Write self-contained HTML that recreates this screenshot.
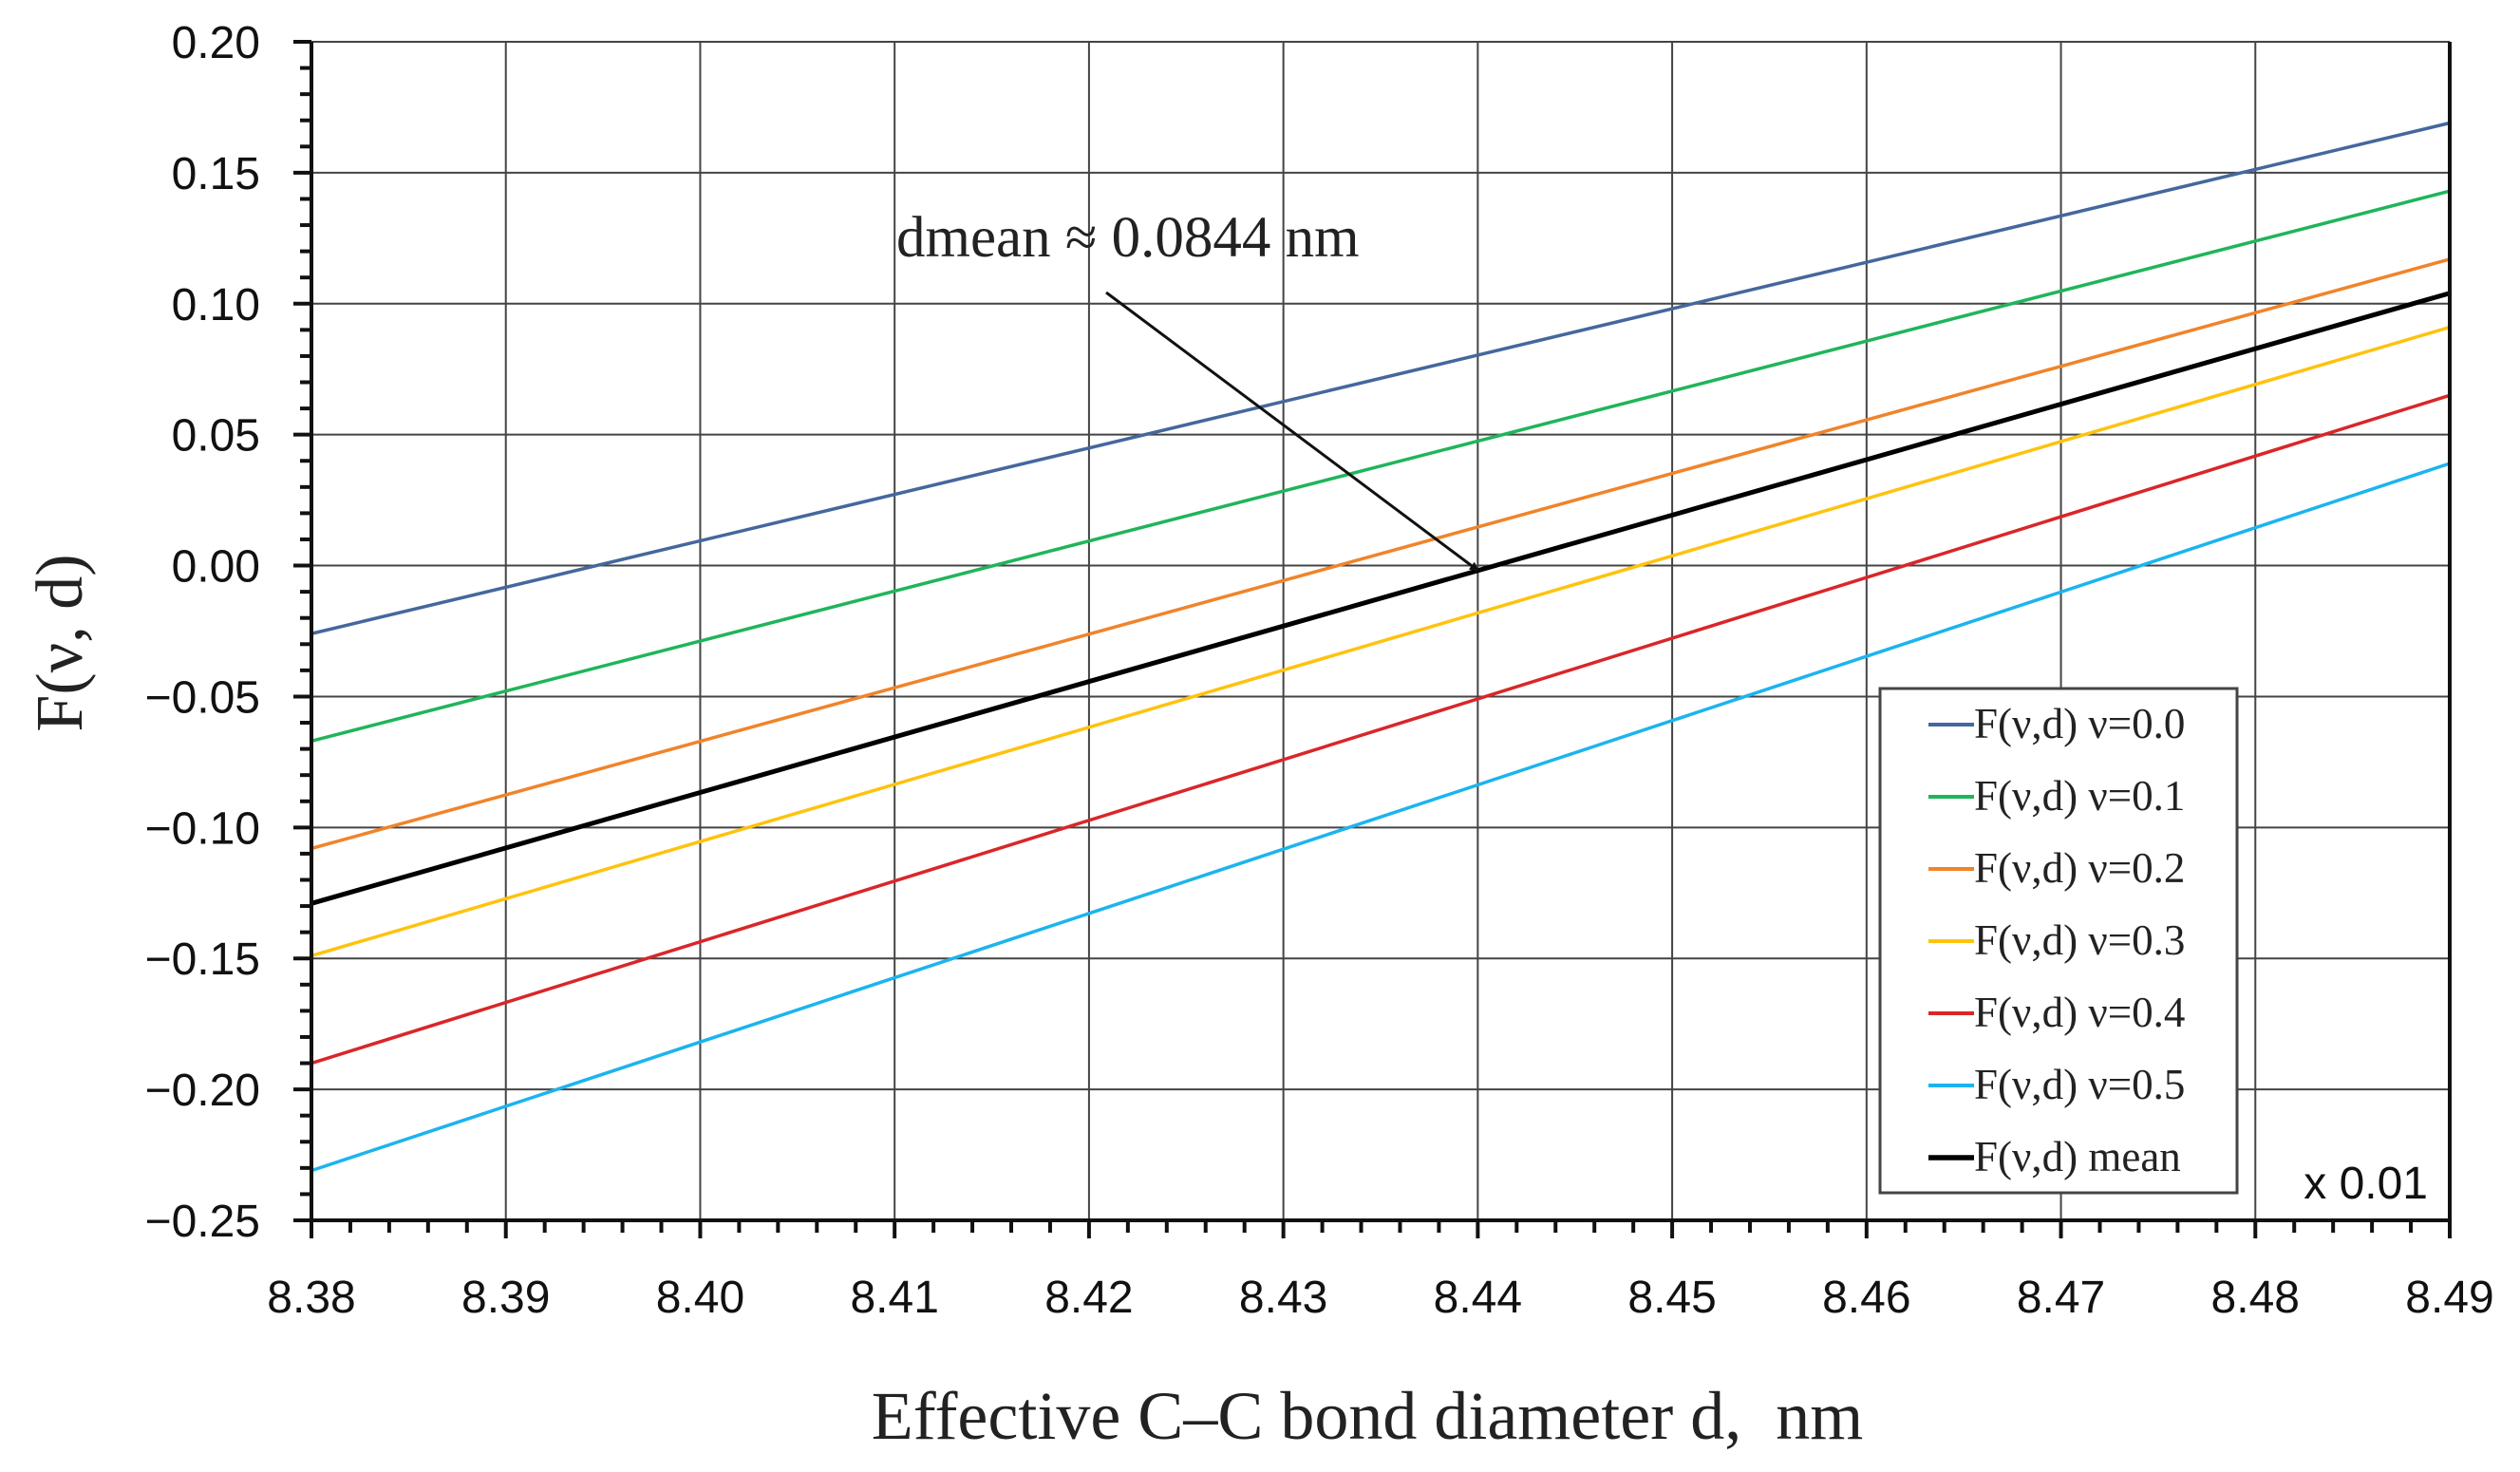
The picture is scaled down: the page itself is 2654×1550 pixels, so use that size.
<!DOCTYPE html>
<html><head><meta charset="utf-8"><style>
html,body{margin:0;padding:0;background:#fff}
svg{display:block}
.tk{font-family:"Liberation Sans Narrow","Liberation Sans",sans-serif;font-size:48px;fill:#111}
.sr{font-family:"Liberation Serif",serif;fill:#222}
</style></head><body>
<svg id="chart" width="2654" height="1550" viewBox="0 0 2654 1550">
<defs><marker id="ah" markerWidth="10" markerHeight="10" refX="9" refY="5" orient="auto" markerUnits="userSpaceOnUse"><path d="M0,0 L10,5 L0,10 z" fill="#111"/></marker></defs>
<g id="grid"></g>
<g id="series"></g>
<g id="axes"></g>
<text class="sr" x="944" y="270" font-size="61">dmean ≈ 0.0844 nm</text>
<line x1="1165" y1="308" x2="1557" y2="601" stroke="#111" stroke-width="3" marker-end="url(#ah)"/>
<text class="sr" x="1440" y="1515" font-size="72" text-anchor="middle" xml:space="preserve">Effective C–C bond diameter d,  nm</text>
<text class="sr" x="0" y="0" font-size="70" text-anchor="middle" transform="translate(86,677) rotate(-90)">F(ν, d)</text>
<text class="tk" x="2557" y="1262" font-size="36" text-anchor="end">x 0.01</text>
<g id="legend"></g>
</svg>
<script>
const xCats = [8.38, 8.49];
const xTicks = ["8.38","8.39","8.40","8.41","8.42","8.43","8.44","8.45","8.46","8.47","8.48","8.49"];
const yTicks = ["0.20","0.15","0.10","0.05","0.00","−0.05","−0.10","−0.15","−0.20","−0.25"];
const seriesNames = ["F(ν,d) ν=0.0","F(ν,d) ν=0.1","F(ν,d) ν=0.2","F(ν,d) ν=0.3","F(ν,d) ν=0.4","F(ν,d) ν=0.5","F(ν,d) mean"];
const seriesStart = [-0.026,-0.067,-0.108,-0.149,-0.190,-0.231,-0.129];
const seriesEnd = [0.169,0.143,0.117,0.091,0.065,0.039,0.104];
const colors = ["#44679e","#1fb55a","#f0842a","#ffc20e","#d9262a","#1cb4ee","#000"];
const NS="http://www.w3.org/2000/svg";
const L=328,R=2580,T=44,B=1285,xmin=8.38,xmax=8.49,ymin=-0.25,ymax=0.20;
const X=v=>L+(v-xmin)/(xmax-xmin)*(R-L);
const Y=v=>B-(v-ymin)/(ymax-ymin)*(B-T);
function mk(p,tag,a){const e=document.createElementNS(NS,tag);for(const k in a)e.setAttribute(k,a[k]);p.appendChild(e);return e;}
const grid=document.getElementById('grid'),axes=document.getElementById('axes'),ser=document.getElementById('series'),leg=document.getElementById('legend');
xTicks.forEach((t,i)=>{const v=parseFloat(t);const x=X(v);
 const g=mk(grid,'line',{x1:x,y1:T,x2:x,y2:B,stroke:'#444','stroke-width':2});
 
 
 const tk=mk(axes,'line',{x1:x,y1:B,x2:x,y2:B+19,stroke:'#111','stroke-width':4});
 
 
 if(i<xTicks.length-1){for(let k=1;k<5;k++){const xm=X(v+k*0.002);const m=mk(axes,'line',{x1:xm,y1:B,x2:xm,y2:B+13,stroke:'#111','stroke-width':4});
  
  }}
 const lb=mk(axes,'text',{x:x,y:1382,'text-anchor':'middle',class:'tk'});lb.textContent=t;
 
 
});
yTicks.forEach((t,i)=>{const v=parseFloat(t.replace('−','-'));const y=Y(v);
 const g=mk(grid,'line',{x1:L,y1:y,x2:R,y2:y,stroke:'#444','stroke-width':2});
 
 
 const tk=mk(axes,'line',{x1:L-19,y1:y,x2:L,y2:y,stroke:'#111','stroke-width':4});
 
 
 if(i<yTicks.length-1){for(let k=1;k<5;k++){const ym=Y(v-k*0.01);const m=mk(axes,'line',{x1:L-12,y1:ym,x2:L,y2:ym,stroke:'#111','stroke-width':4});
  
  }}
 const lb=mk(axes,'text',{x:274,y:y+17,'text-anchor':'end',class:'tk'});lb.textContent=t;
 
 
});
const ax=mk(axes,'path',{d:`M${L},${T} L${L},${B} L${R},${B} L${R},${T}`,fill:'none',stroke:'#111','stroke-width':4});


seriesNames.forEach((n,i)=>{
 const ln=mk(ser,'line',{x1:X(xCats[0]),y1:Y(seriesStart[i]),x2:X(xCats[1]),y2:Y(seriesEnd[i]),stroke:colors[i],'stroke-width':i==6?5:3.5});
 
 
});
const box=mk(leg,'rect',{x:1980,y:725,width:376,height:531,fill:'#fff',stroke:'#444','stroke-width':3});


seriesNames.forEach((n,i)=>{const y=763+i*76;
 const s=mk(leg,'line',{x1:2031,y1:y,x2:2079,y2:y,stroke:colors[i],'stroke-width':i==6?5.5:4});
 
 
 const t=mk(leg,'text',{x:2079,y:y+14,class:'sr','font-size':45});t.textContent=n;
 
 
});
</script>
</body></html>
